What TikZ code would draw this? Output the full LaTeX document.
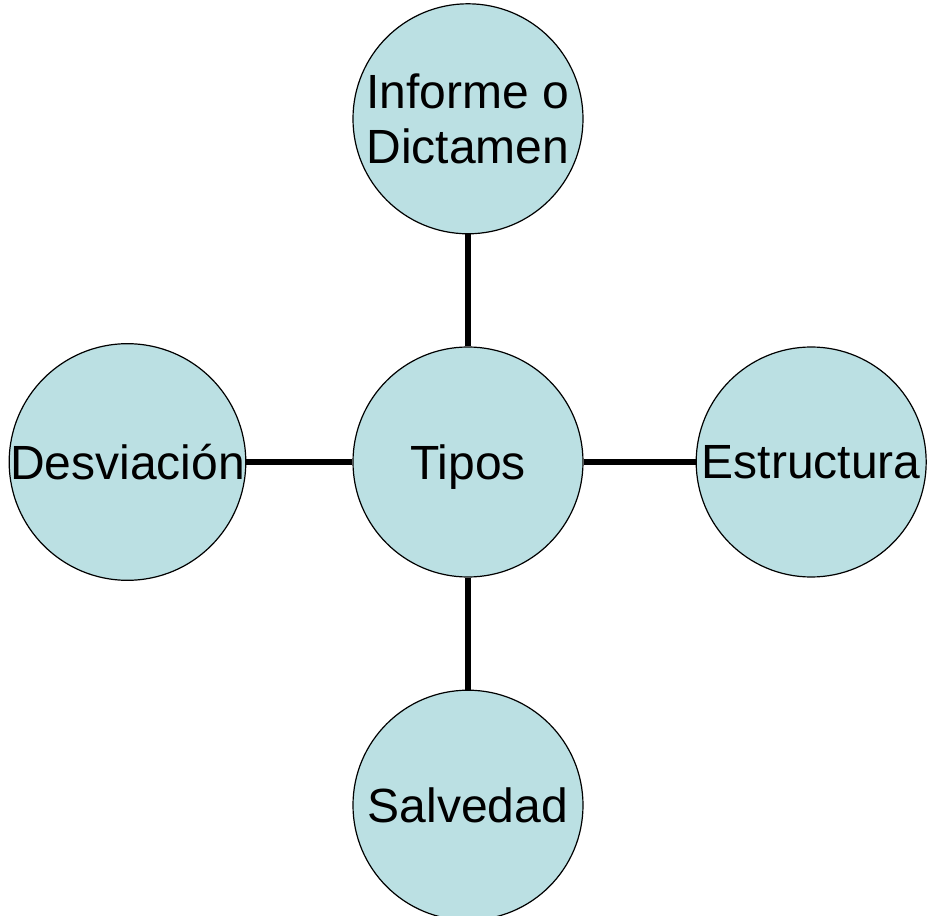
\documentclass[tikz,border=0pt]{standalone}
\usepackage{fontspec}
\setmainfont{Liberation Sans}
\usetikzlibrary{positioning}
\definecolor{tipofill}{RGB}{187,224,227}

\begin{document}
\begin{tikzpicture}[node distance=112pt, auto,]
\tikzset{
    %Define style for circles
    burbuja/.style={
           circle,
           draw=black, line width=1.2pt,
           fill=tipofill,
           minimum size=230pt,
           inner sep=0pt,
           align=center,
           font=\fontsize{48}{55}\selectfont},
    % Define line style
    enlace/.style={
           line width=6pt}
}
 \useasboundingbox (-468pt,-453pt) rectangle (460pt,462pt);
 %nodes
 \node[burbuja, text height=44pt, text depth=8pt] (tipos) {Tipos};
 \node[burbuja, above=of tipos] (informe) {Informe o\\Dictamen};
 \node[burbuja, left=106pt of tipos] (desviacion) {Desviación};
 \node[burbuja, right=of tipos] (estructura) {Estructura};
 \node[burbuja, below=of tipos] (salvedad) {Salvedad};
 % connectors from the centre
 \draw[enlace] (tipos) -- (informe);
 \draw[enlace] (tipos) -- (desviacion);
 \draw[enlace] (tipos) -- (estructura);
 \draw[enlace] (tipos) -- (salvedad);
\end{tikzpicture}
\end{document}
